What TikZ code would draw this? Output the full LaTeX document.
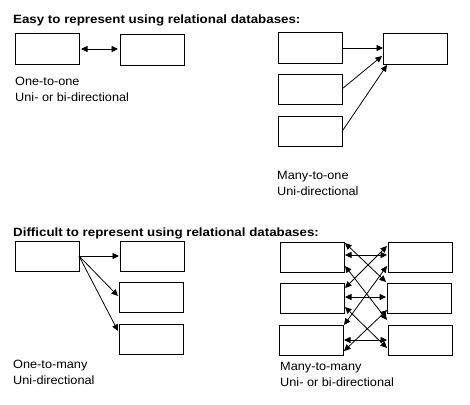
\documentclass[tikz,border=0pt]{standalone}
\usepackage{fontspec}
\setmainfont{Liberation Sans}
\newfontfamily\titlefont{Liberation Sans}[FakeStretch=1.11]
\newfontfamily\bodyfont{Liberation Sans}[FakeStretch=1.06]
\usetikzlibrary{arrows.meta,calc}
\begin{document}
\begin{tikzpicture}[x=1pt,y=-1pt,
  box/.style={draw,line width=1pt,minimum width=64pt,minimum height=30pt,inner sep=0pt,outer sep=0pt},
  ttl/.style={anchor=base west,inner sep=0pt,font=\titlefont\bfseries\fontsize{12pt}{14pt}\selectfont},
  lbl/.style={anchor=base west,inner sep=0pt,font=\bodyfont\fontsize{12pt}{14pt}\selectfont},
  tip/.style={line width=0.8pt,-{Triangle[length=6.5pt,width=6pt]}},
  both/.style={line width=0.8pt,{Triangle[length=6.5pt,width=6pt]}-{Triangle[length=6.5pt,width=6pt]}}]
\fill[white] (0,0) rectangle (470,404);
\useasboundingbox (0,0) rectangle (470,404);

% titles
\node[ttl] (t1) at (13,23.5) {Easy to represent using relational databases:};
\node[ttl] (t2) at (13,236.5) {Difficult to represent using relational databases:};

% one-to-one
\node[box] (A) at (47,49) {};
\node[box] (B) at (152,50) {};
\draw[both,shorten <=2pt,shorten >=2pt] (A.east) -- (A.east -| B.west);
\node[lbl] (l1a) at (15,85) {One-to-one};
\node[lbl] (l1b) at (15,101) {Uni- or bi-directional};

% many-to-one
\node[box] (M1) at (310,48) {};
\node[box] (M2) at (310,89) {};
\node[box] (M3) at (310,131.5) {};
\node[box] (MR) at (415,49) {};
\draw[tip] (M1.east) -- (M1.east -| MR.west);
\draw[tip] (M2.east) -- ($(MR.west)+(-1,7)$);
\draw[tip] (M3.east) -- ($(MR.south west)+(4,1)$);
\node[lbl] (l2a) at (277,179) {Many-to-one};
\node[lbl] (l2b) at (277,195) {Uni-directional};

% one-to-many
\node[box] (D) at (47,256) {};
\node[box] (E1) at (152,256) {};
\node[box] (E2) at (151,297) {};
\node[box] (E3) at (151,339) {};
\draw[tip] (D.east) -- ($(E1.west)+(-1,0)$);
\draw[tip] (D.east) -- ($(E2.west)+(-1,-1)$);
\draw[tip] (D.east) -- ($(E3.west)+(-1,-8)$);
\node[lbl] (l3a) at (13,368) {One-to-many};
\node[lbl] (l3b) at (13,384) {Uni-directional};

% many-to-many
\node[box] (L1) at (312,257) {};
\node[box] (L2) at (312,298) {};
\node[box] (L3) at (311,340) {};
\node[box] (R1) at (420,257) {};
\node[box] (R2) at (419,298) {};
\node[box] (R3) at (420,340) {};
\draw[both] ($(L1.east)+(1,-2)$) -- ($(R1.west)+(-1,-2)$);
\draw[both] ($(L2.east)+(1,-1)$) -- ($(R2.west)+(-1,-1)$);
\draw[both] ($(L3.east)+(1,0)$) -- ($(R3.west)+(-1,0)$);
\draw[both] ($(L1.north east)+(1,1)$) -- ($(R2.north west)+(-1,-1)$);
\draw[both] ($(L2.north east)+(1,5)$) -- ($(R1.north west)+(-1,4)$);
\draw[both] ($(L1.south east)+(1,-6)$) -- ($(R3.north west)+(-1,-5)$);
\draw[both] ($(L3.north east)+(1,0)$) -- ($(R1.south west)+(-1,-6)$);
\draw[both] ($(L2.south east)+(1,-6)$) -- ($(R3.south west)+(-1,-7)$);
\draw[both] ($(L3.south east)+(1,-4)$) -- ($(R2.south west)+(0,-3)$);
\node[lbl] (l4a) at (280,370) {Many-to-many};
\node[lbl] (l4b) at (280,386) {Uni- or bi-directional};
\end{tikzpicture}
\end{document}
